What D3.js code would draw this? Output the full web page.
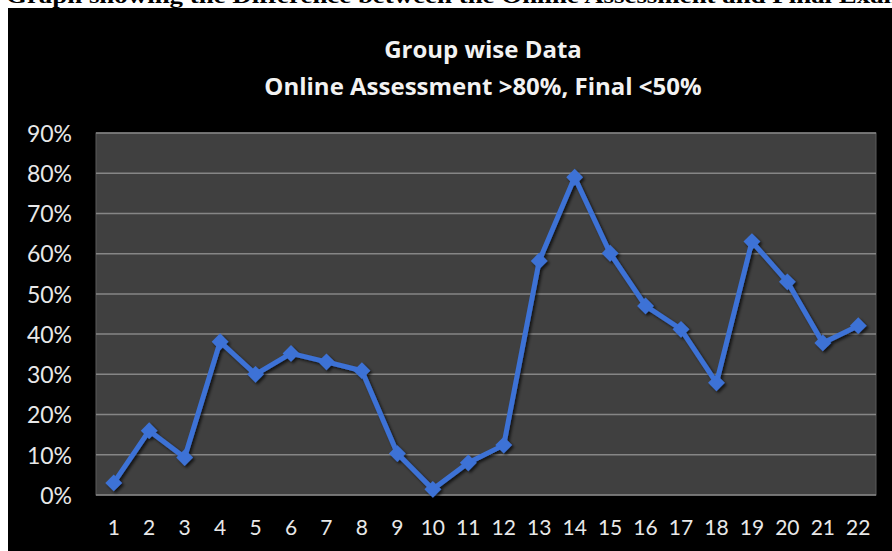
<!DOCTYPE html>
<html>
<head>
<meta charset="utf-8">
<script src="https://cdn.jsdelivr.net/npm/d3@7"></script>
<style>
  body { margin: 0; background: #fff; }
  svg { display: block; }
</style>
</head>
<body>
<div id="chart"></div>
<script>
// values
const groups = ["1","2","3","4","5","6","7","8","9","10","11","12","13","14","15","16","17","18","19","20","21","22"];
const diff = [0.03, 0.16, 0.093, 0.381, 0.30, 0.352, 0.331, 0.309, 0.103, 0.014, 0.08, 0.124,
              0.582, 0.79, 0.601, 0.47, 0.412, 0.279, 0.63, 0.53, 0.378, 0.421];
const yTicks = [0, 0.1, 0.2, 0.3, 0.4, 0.5, 0.6, 0.7, 0.8, 0.9];
const titleLines = ["Group wise Data", "Online Assessment >80%, Final <50%"];
const caption = "Graph showing the Difference between the Online Assessment and Final Exam";

const W = 892, H = 551;
const plot = { left: 96, right: 876, top: 133, bottom: 495 };

const svg = d3.select("#chart").append("svg")
  .attr("width", W)
  .attr("height", H);

const defs = svg.append("defs");
const shadow = defs.append("filter").attr("id", "shadow")
  .attr("x", "-20%").attr("y", "-20%").attr("width", "140%").attr("height", "140%");
shadow.append("feDropShadow")
  .attr("dx", 2).attr("dy", 2).attr("stdDeviation", 1.8)
  .attr("flood-color", "#000").attr("flood-opacity", 0.7);

// caption above the chart (cut off by the page edge, as in the source)
svg.append("text")
  .attr("x", 6).attr("y", 3)
  .attr("textLength", 900).attr("lengthAdjust", "spacingAndGlyphs")
  .style("font-family", "'Liberation Serif', 'Times New Roman', serif")
  .style("font-weight", "bold")
  .style("font-size", "22px")
  .attr("fill", "#000")
  .text(caption);

// black chart background
svg.append("rect")
  .attr("x", 8).attr("y", 8)
  .attr("width", W - 8).attr("height", H - 8)
  .attr("fill", "#000");

// plot area
svg.append("rect")
  .attr("x", plot.left).attr("y", plot.top)
  .attr("width", plot.right - plot.left).attr("height", plot.bottom - plot.top)
  .attr("fill", "#404040")
  .attr("stroke", "#5a5a5a").attr("stroke-width", 1);

const x = d3.scaleBand()
  .domain(groups)
  .range([plot.left, plot.right]);

const y = d3.scaleLinear()
  .domain([0, 0.9])
  .range([plot.bottom, plot.top]);

// gridlines
svg.append("g")
  .selectAll("line")
  .data(yTicks).enter()
  .append("line")
  .attr("x1", plot.left).attr("x2", plot.right)
  .attr("y1", d => y(d)).attr("y2", d => y(d))
  .attr("stroke", "#868686")
  .attr("stroke-width", 1.5);

// y axis labels
const yAxis = svg.append("g")
  .attr("transform", "translate(" + (plot.left - 24) + ",0)")
  .call(d3.axisLeft(y).tickValues(yTicks).tickFormat(d3.format(".0%")).tickSize(0).tickPadding(0));
yAxis.select(".domain").remove();
yAxis.selectAll("text")
  .attr("dy", "0.36em")
  .style("font-family", "Lato, 'Open Sans', sans-serif")
  .style("font-size", "23px")
  .attr("fill", "#e8e8e8");

// x axis labels
const xAxis = svg.append("g")
  .attr("transform", "translate(0," + (plot.bottom + 25) + ")")
  .call(d3.axisBottom(x).tickSize(0).tickPadding(0));
xAxis.select(".domain").remove();
xAxis.selectAll("text")
  .attr("dy", "0.72em")
  .style("font-family", "Lato, 'Open Sans', sans-serif")
  .style("font-size", "21px")
  .attr("fill", "#e8e8e8");

// title
svg.append("g")
  .selectAll("text")
  .data(titleLines).enter()
  .append("text")
  .attr("x", 483)
  .attr("y", (d, i) => 58 + i * 37)
  .attr("text-anchor", "middle")
  .style("font-family", "'Open Sans', Lato, sans-serif")
  .style("font-weight", "bold")
  .style("font-size", "24px")
  .attr("fill", "#f2f2f2")
  .text(d => d);

// series
const cx = (d, i) => x(groups[i]) + x.bandwidth() / 2;
const line = d3.line()
  .x(cx)
  .y(d => y(d));

const series = svg.append("g").attr("filter", "url(#shadow)");

series.append("path")
  .datum(diff)
  .attr("d", line)
  .attr("fill", "none")
  .attr("stroke", "#3d72d6")
  .attr("stroke-width", 5)
  .attr("stroke-linejoin", "round");

series.selectAll("path.marker")
  .data(diff).enter()
  .append("path")
  .attr("class", "marker")
  .attr("d", d3.symbol().type(d3.symbolDiamond2).size(180))
  .attr("transform", (d, i) => "translate(" + cx(d, i) + "," + y(d) + ")")
  .attr("fill", "#3d72d6");
</script>
</body>
</html>
